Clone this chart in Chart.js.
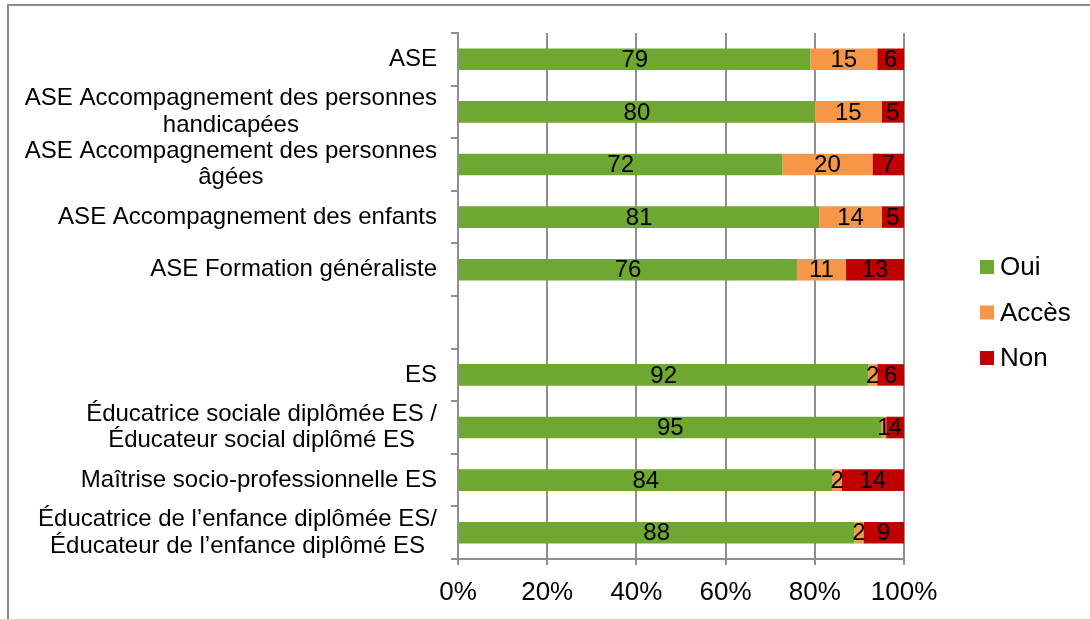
<!DOCTYPE html>
<html lang="fr">
<head>
<meta charset="utf-8">
<title>Oui / Accès / Non</title>
<script src="https://cdn.jsdelivr.net/npm/chart.js@4.4.1/dist/chart.umd.min.js"></script>
<style>
    html, body { margin: 0; padding: 0; background: #fff; }
    #wrap { position: relative; width: 1090px; height: 619px; overflow: hidden; }
    #frame { position: absolute; left: 7px; top: 4px; right: -4px; bottom: -4px;
             border-left: 2px solid #8c8c8c; border-top: 2px solid #8c8c8c; }
    #chart { position: absolute; left: 0; top: 0; }
</style>
</head>
<body>
<div id="wrap">
    <div id="frame"></div>
    <canvas id="chart" width="1090" height="619"></canvas>
</div>
<script>
// categories (one empty row between the ASE and ES groups)
const categories = [
    ['ASE'],
    ['ASE Accompagnement des personnes', 'handicapées'],
    ['ASE Accompagnement des personnes', 'âgées'],
    ['ASE Accompagnement des enfants'],
    ['ASE Formation généraliste'],
    [''],
    ['ES'],
    ['Éducatrice sociale diplômée ES /', 'Éducateur social diplômé ES'],
    ['Maîtrise socio-professionnelle ES'],
    ['Éducatrice de l’enfance diplômée ES/', 'Éducateur de l’enfance diplômé ES']
];

const seriesNames = ['Oui', 'Accès', 'Non'];
const seriesColors = ['#6ea830', '#f79646', '#c00000'];

const oui   = [79, 80, 72, 81, 76, null, 92, 95, 84, 88];
const acces = [15, 15, 20, 14, 11, null,  2,  1,  2,  2];
const non   = [ 6,  5,  7,  5, 13, null,  6,  4, 14,  9];

const xTicks = [0, 20, 40, 60, 80, 100];

const FONT = 'Arial, "Liberation Sans", sans-serif';

// 100% stacked: each row is scaled to its total
const rawSeries = [oui, acces, non];
const totals = categories.map((c, i) => rawSeries.reduce((s, arr) => s + (arr[i] || 0), 0));
const toPct = arr => arr.map((v, i) => v == null ? null : v / totals[i] * 100);

const datasets = rawSeries.map((arr, k) => ({
    label: seriesNames[k],
    data: toPct(arr),
    raw: arr,
    backgroundColor: seriesColors[k],
    borderWidth: 0,
    barPercentage: 0.41,
    categoryPercentage: 1.0
}));

// category labels: each block right-aligned, its lines centered inside
const categoryLabels = {
    id: 'categoryLabels',
    afterDraw(chart) {
        const ctx = chart.ctx;
        const y = chart.scales.y;
        ctx.save();
        ctx.font = '24px ' + FONT;
        ctx.fillStyle = '#000';
        ctx.textBaseline = 'middle';
        ctx.textAlign = 'center';
        const right = y.right - 7 - 14;
        const lh = 26.5;
        categories.forEach((lines, i) => {
            const widest = Math.max(...lines.map(l => ctx.measureText(l).width));
            const cx = right - widest / 2;
            const cy = y.getPixelForTick(i);
            lines.forEach((l, j) => {
                ctx.fillText(l, cx, cy + (j - (lines.length - 1) / 2) * lh);
            });
        });
        ctx.restore();
    }
};

// value labels in the middle of every segment
const valueLabels = {
    id: 'valueLabels',
    afterDatasetsDraw(chart) {
        const ctx = chart.ctx;
        ctx.save();
        ctx.font = '24px ' + FONT;
        ctx.fillStyle = '#000';
        ctx.textAlign = 'center';
        ctx.textBaseline = 'middle';
        chart.data.datasets.forEach((ds, k) => {
            const meta = chart.getDatasetMeta(k);
            meta.data.forEach((bar, i) => {
                if (ds.raw[i] == null) return;
                ctx.fillText(String(ds.raw[i]), (bar.x + bar.base) / 2, bar.y + 1);
            });
        });
        ctx.restore();
    }
};

// legend on the right
const sideLegend = {
    id: 'sideLegend',
    afterDraw(chart) {
        const ctx = chart.ctx;
        ctx.save();
        ctx.font = '26px ' + FONT;
        ctx.textBaseline = 'middle';
        ctx.textAlign = 'left';
        chart.data.datasets.forEach((ds, k) => {
            const cy = 267 + k * 45.5;
            ctx.fillStyle = ds.backgroundColor;
            ctx.fillRect(980, cy - 7, 14, 14);
            ctx.fillStyle = '#000';
            ctx.fillText(ds.label, 1000, cy + 1);
        });
        ctx.restore();
    }
};

new Chart(document.getElementById('chart'), {
    type: 'bar',
    data: {
        labels: categories,
        datasets: datasets
    },
    options: {
        indexAxis: 'y',
        responsive: false,
        animation: false,
        events: [],
        layout: {
            padding: { top: 33, right: 186, bottom: 0, left: 0 }
        },
        plugins: {
            legend: { display: false },
            tooltip: { enabled: false }
        },
        scales: {
            x: {
                stacked: true,
                min: 0,
                max: 100,
                afterBuildTicks: scale => {
                    scale.ticks = xTicks.map(v => ({ value: v }));
                },
                afterFit: scale => { scale.height = 60; },
                grid: {
                    color: '#8f8f8f',
                    lineWidth: 2,
                    tickLength: 6
                },
                border: { color: '#8f8f8f', width: 2 },
                ticks: {
                    padding: 12,
                    color: '#000',
                    font: { family: FONT, size: 26 },
                    callback: v => v + '%'
                }
            },
            y: {
                stacked: true,
                afterFit: scale => { scale.width = 458; },
                grid: {
                    offset: true,
                    drawOnChartArea: false,
                    drawTicks: true,
                    tickLength: 7,
                    color: '#8f8f8f',
                    lineWidth: 2
                },
                border: { color: '#8f8f8f', width: 2 },
                ticks: { display: false }
            }
        }
    },
    plugins: [valueLabels, categoryLabels, sideLegend]
});
</script>
</body>
</html>
